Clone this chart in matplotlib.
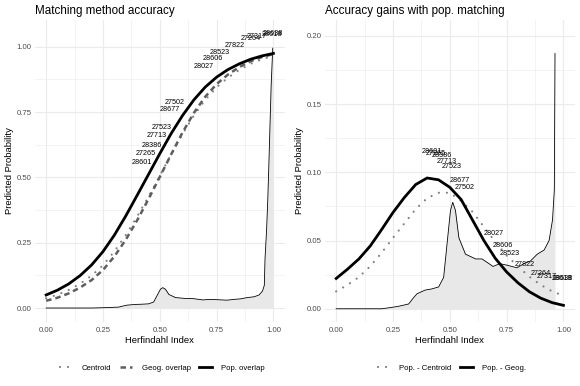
import matplotlib
matplotlib.use('Agg')
import matplotlib.pyplot as plt
from matplotlib.lines import Line2D
from matplotlib.ticker import MultipleLocator

plt.rcParams['font.family'] = ['Liberation Sans', 'DejaVu Sans']

# predicted probabilities along the Herfindahl index
herf = [0.00, 0.05, 0.10, 0.15, 0.20, 0.25, 0.30, 0.35, 0.40, 0.45, 0.50,
        0.55, 0.60, 0.65, 0.70, 0.75, 0.80, 0.85, 0.90, 0.95, 1.00]
pop_overlap = [0.050, 0.0685, 0.0928, 0.1246, 0.165, 0.216, 0.279, 0.352, 0.431, 0.511, 0.591,
               0.668, 0.737, 0.797, 0.846, 0.884, 0.913, 0.935, 0.9526, 0.9654, 0.9749]
geog_overlap = [0.0278, 0.0395, 0.0563, 0.0786, 0.107, 0.1455, 0.1975, 0.261, 0.3352, 0.4165, 0.502,
                0.588, 0.672, 0.747, 0.809, 0.857, 0.894, 0.9225, 0.9448, 0.9609, 0.9724]
centroid = [0.0373, 0.051, 0.0696, 0.0934, 0.124, 0.164, 0.2165, 0.279, 0.350, 0.426, 0.506,
            0.589, 0.666, 0.737, 0.797, 0.845, 0.882, 0.9115, 0.9351, 0.9526, 0.9654]

# differences (right panel)
pop_minus_centroid = [0.0127, 0.0175, 0.0232, 0.0312, 0.041, 0.052, 0.0625, 0.073, 0.081, 0.085, 0.085,
                      0.079, 0.071, 0.060, 0.049, 0.039, 0.031, 0.0235, 0.0175, 0.0128, 0.0095]
pop_minus_geog = [0.0222, 0.029, 0.0365, 0.046, 0.058, 0.0705, 0.0815, 0.091, 0.0958, 0.0945, 0.089,
                  0.080, 0.065, 0.050, 0.037, 0.027, 0.019, 0.0125, 0.0078, 0.0045, 0.0025]

# density of the Herfindahl index
dens_x = [0.00, 0.20, 0.245, 0.28, 0.319, 0.34, 0.356, 0.392, 0.42, 0.451, 0.473, 0.488,
          0.503, 0.513, 0.525, 0.54, 0.569, 0.614, 0.642, 0.673, 0.69, 0.72, 0.75, 0.796,
          0.826, 0.855, 0.885, 0.915, 0.937, 0.952, 0.96, 0.963, 0.97, 0.975, 0.98, 0.99, 0.997]
dens_y = [0.0, 0.0, 0.001, 0.002, 0.0035, 0.008, 0.011, 0.0137, 0.0145, 0.016, 0.023, 0.0476,
          0.072, 0.078, 0.072, 0.052, 0.040, 0.0365, 0.0365, 0.033, 0.031, 0.033, 0.032, 0.030,
          0.033, 0.035, 0.040, 0.043, 0.050, 0.065, 0.087, 0.187, 0.30, 0.41, 0.55, 0.85, 0.995]

# labelled observations
label_ids = ['28601', '27265', '28386', '27713', '27523', '28677', '27502', '28027',
             '28606', '28523', '27822', '27264', '27317', '28618', '28638']
label_x = [0.423, 0.44, 0.463, 0.485, 0.507, 0.546, 0.566, 0.695,
           0.733, 0.765, 0.829, 0.899, 0.925, 0.993, 0.997]
label_y_left = [0.556, 0.592, 0.621, 0.659, 0.690, 0.759, 0.785, 0.923,
                0.954, 0.977, 1.004, 1.031, 1.038, 1.046, 1.050]
label_y_right = [0.1154, 0.114, 0.1125, 0.108, 0.1044, 0.0938, 0.0888, 0.0551,
                 0.0463, 0.0405, 0.0322, 0.0260, 0.0240, 0.0220, 0.0220]

GRID = '#EBEBEB'
TICK = '#4D4D4D'


def style_axes(ax, ymajor, ylim):
	ax.set_xlim(-0.05, 1.05)
	ax.set_ylim(*ylim)
	ax.xaxis.set_major_locator(MultipleLocator(0.25))
	ax.xaxis.set_minor_locator(MultipleLocator(0.125))
	ax.yaxis.set_major_locator(MultipleLocator(ymajor))
	ax.yaxis.set_minor_locator(MultipleLocator(ymajor / 2))
	ax.grid(which='major', color=GRID, lw=0.8)
	ax.grid(which='minor', color=GRID, lw=0.4)
	ax.set_axisbelow(True)
	for s in ax.spines.values():
		s.set_visible(False)
	ax.tick_params(which='both', length=0, labelsize=5.6, labelcolor=TICK)
	ax.tick_params(axis='x', pad=4)
	ax.tick_params(axis='y', pad=2.5)
	ax.xaxis.set_major_formatter(lambda v, p: '%.2f' % v)
	ax.yaxis.set_major_formatter(lambda v, p: '%.2f' % v)
	ax.set_xlabel('Herfindahl Index', fontsize=6.8, labelpad=1.5)
	ax.set_ylabel('Predicted Probability', fontsize=6.8)
	ax.yaxis.set_label_coords(-0.084, 0.5)


def draw_density(ax, xs, ys):
	ax.fill_between(xs, 0, ys, color='#E8E8E8', lw=0, zorder=1)
	ax.plot(xs, ys, color='black', lw=0.6, zorder=2)


dotted = dict(color='#808080', lw=1.6, linestyle=(0, (0.01, 3.6)), dash_capstyle='round')
dashed = dict(color='#5E5E5E', lw=1.8, linestyle=(0, (2.2, 1.6)))
solid = dict(color='black', lw=2.0)

fig = plt.figure(figsize=(5.8, 3.86), dpi=100)
ax1 = fig.add_axes([0.060, 0.1665, 0.431, 0.7815])
ax2 = fig.add_axes([0.560, 0.1665, 0.431, 0.7815])

# left: matching method accuracy
draw_density(ax1, dens_x, dens_y)
ax1.plot(herf, centroid, zorder=3, **dotted)
ax1.plot(herf, geog_overlap, zorder=3, **dashed)
ax1.plot(herf, pop_overlap, zorder=4, **solid)
for lab, x, y in zip(label_ids, label_x, label_y_left):
	ax1.text(x, y, lab, fontsize=5.2, ha='center', va='center', zorder=5)
style_axes(ax1, 0.25, (-0.0525, 1.1025))
ax1.set_title('Matching method accuracy', loc='left', fontsize=8.4, pad=4.5)

# right: gains with population matching (density cut at the axis limit, as in ggplot)
keep = [i for i, v in enumerate(dens_y) if v <= 0.2]
draw_density(ax2, [dens_x[i] for i in keep], [dens_y[i] for i in keep])
ax2.plot(herf, pop_minus_centroid, zorder=3, **dotted)
ax2.plot(herf, pop_minus_geog, zorder=4, **solid)
for lab, x, y in zip(label_ids, label_x, label_y_right):
	ax2.text(x, y, lab, fontsize=5.2, ha='center', va='center', zorder=5)
style_axes(ax2, 0.05, (-0.0095, 0.2115))
ax2.set_title('Accuracy gains with pop. matching', loc='left', fontsize=8.4, pad=4.5)

# legends under each panel
leg_kw = dict(loc='center', ncol=3, frameon=False, fontsize=5.6, handlelength=1.6,
              handletextpad=1.2, columnspacing=1.1, bbox_transform=fig.transFigure)
h1 = [Line2D([], [], **dotted), Line2D([], [], **dashed), Line2D([], [], **solid)]
fig.legend(h1, ['Centroid', 'Geog. overlap', 'Pop. overlap'],
           bbox_to_anchor=(0.280, 0.047), **leg_kw)
h2 = [Line2D([], [], **dotted), Line2D([], [], **solid)]
fig.legend(h2, ['Pop. - Centroid', 'Pop. - Geog.'],
           bbox_to_anchor=(0.779, 0.047), **leg_kw)

fig.savefig('out.png', dpi=100)
